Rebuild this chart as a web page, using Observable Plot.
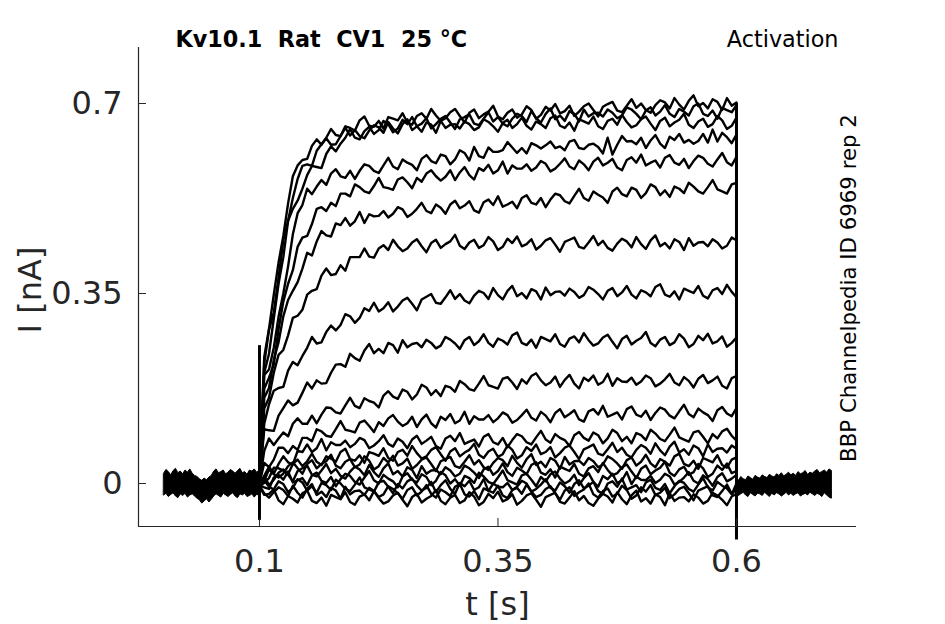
<!DOCTYPE html>
<html><head><meta charset="utf-8">
<script src="https://cdn.jsdelivr.net/npm/d3@7"></script>
<script src="https://cdn.jsdelivr.net/npm/@observablehq/plot@0.6"></script>
<style>body{margin:0;background:#fff} svg{display:block}</style>
</head><body><div id="chart"></div>
<script>
// Sampling of the voltage-step traces (s) and baseline envelopes (s)
const stepStart = 0.1, stepDt = 0.005;
const preStart = 0.0, postStart = 0.6, baseDt = 0.0025;

// Currents in pA, one array per voltage step (sampled every 5 ms from 0.1 s to 0.6 s)
const trace01 = [15, 233,285,348,407,456,516,566,586,596,598, 622,634,624,637,653,642,640,658,655,650, 669,676,659,657,668,654,675,672,669,682, 665,661,677,682,672,690,678,668,673,684, 690,677,665,683,689,673,680,685,696,676, 671,683,689,674,680,695,688,672,679,694, 687,699,682,686,696,677,685,695,700,688, 676,694,699,703,687,684,696,708,692,700, 688,683,697,706,702,691,710,698,689,705, 715,695,701,691,708,703,688,710,696,702];
const trace02 = [10, 204,239,304,368,417,484,506,521,543,568, 585,583,581,607,621,612,626,637,653,637, 634,649,657,644,651,668,662,647,654,670, 662,675,658,663,673,654,662,672,677,665, 653,671,675,680,663,660,672,684,667,675, 663,658,672,681,677,666,686,673,665,681, 691,671,678,668,686,681,667,689,676,682, 683,676,689,683,673,678,693,689,681,671, 687,693,678,685,697,681,675,690,685,678, 695,700,681,677,687,672,692,688,684,697];
const trace03 = [12, 221,283,315,379,448,484,526,561,585,588, 585,613,625,636,624,625,640,655,641,651, 640,636,650,660,656,646,666,654,645,662, 671,651,658,648,665,661,646,668,655,661, 662,654,667,662,651,656,671,666,658,648, 664,670,655,662,674,659,652,667,662,655, 673,678,659,655,665,650,671,667,663,676, 658,653,668,672,661,679,666,656,660,671, 676,663,651,668,674,658,665,670,681,661, 655,667,672,657,662,677,669,653,659,674];
const trace04 = [8, 200,210,250,307,350,400,459,498,513,543, 533,547,559,550,571,579,566,563,576,561, 576,588,585,576,572,586,600,584,579,597, 591,587,577,598,605,594,590,606,603,588, 597,614,609,595,620,603,600,619,611,611, 614,629,619,609,618,608,627,623,617,623, 630,618,621,614,630,633,618,616,624,626, 620,608,637,606,624,640,630,631,625,637, 618,632,642,626,618,639,633,644,628,633, 626,631,644,628,652,630,646,638,627,643];
const trace05 = [6, 175,195,219,284,335,368,393,436,453,456, 478,506,509,502,517,511,534,534,529,551, 546,538,535,548,563,546,544,541,560,564, 555,544,563,556,571,577,566,558,565,577, 559,573,583,568,560,581,576,587,571,577, 593,571,586,580,580,588,576,582,594,589, 575,580,589,599,584,579,595,588,577,593, 600,586,591,598,582,577,596,601,591,606, 586,591,595,582,600,605,591,587,598,581, 594,604,600,589,584,597,609,592,586,602];
const trace06 = [5, 158,176,228,260,308,338,355,371,396,425, 420,446,465,457,455,479,476,489,475,483, 500,480,496,492,493,502,490,497,509,505, 491,497,506,517,502,498,514,508,497,514, 521,507,512,520,503,499,518,523,513,529, 510,514,519,507,526,531,517,514,526,509, 523,534,531,520,516,530,543,526,521,538, 532,527,517,538,545,533,529,545,541,526, 535,551,546,531,540,528,547,543,535,554, 547,538,534,546,559,542,538,534,551,554];
const trace07 = [4, 138,158,204,237,246,273,305,309,320,348, 355,358,383,396,384,386,402,392,417,417, 417,433,418,416,433,439,430,449,437,428, 433,444,450,437,426,443,449,434,441,446, 458,438,432,444,449,434,439,454,446,430, 436,451,443,455,437,441,450,431,438,448, 452,440,427,445,449,453,436,433,444,456, 439,447,434,429,442,451,446,435,454,441, 432,448,457,437,443,433,450,445,430,452, 438,444,445,437,450,444,433,438,453,448];
const trace08 = [3, 110,146,171,176,178,208,224,218,235,250, 270,258,260,279,291,282,292,312,308,296, 305,323,318,333,317,323,334,317,326,337, 342,331,319,339,344,349,333,331,343,356, 340,349,337,332,346,355,351,340,360,347, 339,355,364,345,351,341,358,354,339,361, 347,353,354,346,359,353,342,347,362,357, 349,339,355,360,345,352,364,348,341,356, 352,345,362,367,348,344,354,339,359,355, 351,364,346,341,356,360,349,366,353,343];
const trace09 = [2, 100,98,97,125,139,153,144,149,167,186, 175,190,184,185,204,219,220,215,239,231, 226,245,257,240,248,240,259,255,241,264, 251,257,259,251,265,259,249,254,270,265, 258,248,264,270,255,262,275,259,252,267, 263,256,273,278,259,255,265,250,270,266, 262,275,257,252,267,271,260,277,264,254, 258,269,274,261,249,266,272,256,263,268, 279,259,253,265,270,255,260,275,267,251, 257,272,264,276,258,262,271,252,259,269];
const trace10 = [1, 60,83,71,83,94,87,110,120,110,110, 125,111,127,140,139,131,129,144,158,143, 139,157,152,149,140,162,170,160,156,173, 169,155,164,182,177,163,172,161,180,177, 169,189,183,174,171,184,198,181,178,175, 193,196,186,174,192,184,198,203,190,181, 186,197,178,191,200,184,175,195,189,199, 182,187,202,180,194,188,187,195,182,188, 199,194,179,184,192,202,186,181,196,189, 177,193,200,185,190,197,180,175,194,198];
const trace11 = [0, 38,30,44,66,66,56,69,62,84,84, 78,100,96,88,86,100,115,99,97,94, 112,116,106,95,113,106,120,126,114,106, 111,123,104,118,127,111,103,123,117,128, 111,116,132,110,124,118,118,126,113,120, 131,126,112,117,126,136,121,116,132,125, 113,130,137,122,128,135,118,114,133,137, 127,143,123,127,131,118,137,142,127,123, 134,117,130,140,136,125,120,133,145,128, 122,138,131,126,115,135,141,129,124,139];
const trace12 = [-2, 14,31,18,36,50,39,35,60,58,72, 58,65,82,61,76,71,71,79,67,73, 84,80,65,70,78,89,73,68,83,77, 65,81,88,73,79,86,69,64,83,88, 78,93,73,77,81,68,86,91,76,72, 84,67,80,91,87,76,72,85,97,81, 75,91,84,80,69,89,95,84,79,94, 89,74,83,99,93,78,86,74,93,89, 80,99,92,82,78,90,103,85,81,77, 94,97,86,74,91,83,96,101,88,79];
const trace13 = [-4, 1,10,29,28,24,17,36,44,32,41, 55,40,34,50,46,40,58,64,45,42, 52,38,58,55,51,65,47,42,58,62, 51,69,56,46,50,62,67,54,42,59, 65,50,57,62,73,53,47,59,64,49, 54,70,62,46,52,67,60,72,54,58, 67,48,56,66,70,58,45,63,67,72, 55,52,63,75,58,66,53,48,62,71, 66,55,74,61,52,68,77,57,63,53, 70,65,50,72,58,64,65,57,70,64];
const trace14 = [0, 5,26,17,11,18,32,39,28,18,36, 43,28,36,41,53,33,28,40,45,30, 35,50,42,26,32,47,39,51,33,37, 46,27,34,44,48,36,23,41,45,49, 32,29,40,52,35,43,30,25,38,47, 43,32,51,38,29,45,54,34,40,30, 47,42,27,49,35,41,42,34,47,41, 30,35,50,45,37,27,43,48,33,40, 53,37,30,45,40,33,50,55,36,32, 42,27,47,43,39,52,34,29,44,48];
const trace15 = [-1, 13,-3,7,20,26,16,4,23,28,33, 16,13,24,36,19,27,14,9,22,31, 26,15,34,21,12,28,37,17,23,13, 30,25,10,32,18,24,25,17,30,24, 13,18,33,28,20,10,26,31,16,23, 37,21,14,29,24,17,34,39,20,16, 26,11,31,27,23,36,18,13,28,32, 21,38,25,15,19,30,35,22,10,27, 33,17,24,29,40,20,14,26,31,16, 21,36,28,12,18,33,25,37,19,23];
const trace16 = [-3, -7,-10,11,16,7,22,2,6,10,-3, 15,20,5,1,12,-5,8,18,14,3, -2,11,23,6,0,16,9,4,-7,13, 19,7,2,17,12,-3,5,21,15,0, 8,-4,14,10,1,20,13,3,-1,11, 24,6,2,-2,15,18,7,-5,12,4, 17,22,9,0,5,16,-3,10,19,3, -6,14,8,18,1,6,21,-1,13,7, 6,14,1,7,18,13,-2,3,11,21, 5,0,15,8,-4,12,19,4,9,16];
const trace17 = [-2, 6,-6,-11,4,-1,-16,-8,8,2,-13, -5,-17,1,-3,-12,7,0,-10,-14,-2, 11,-7,-11,-15,2,5,-6,-18,-1,-9, 4,9,-4,-13,-8,3,-16,-3,6,-10, -19,1,-5,5,-12,-7,8,-14,0,-6, -7,1,-12,-6,5,0,-15,-10,-2,8, -8,-13,2,-5,-17,-1,6,-9,-4,3, -14,-19,0,4,-6,9,-11,-7,-3,-16, 2,7,-8,-12,-1,-18,-5,5,1,-10, -15,-2,10,-7,-13,3,-4,-9,-20,0];
const trace18 = [-4, -18,-26,-16,-7,-12,-23,-4,-17,-26,-10, -1,-21,-15,-25,-8,-13,-28,-6,-20,-14, -13,-21,-8,-14,-25,-20,-5,-10,-18,-28, -12,-7,-22,-15,-3,-19,-26,-11,-16,-23, -6,-1,-20,-24,-14,-29,-9,-13,-17,-4, -22,-27,-12,-8,-19,-2,-15,-25,-21,-10, -5,-18,-30,-13,-7,-23,-16,-11,0,-20, -26,-14,-9,-24,-19,-4,-12,-28,-22,-7, -15,-3,-21,-17,-8,-27,-20,-10,-6,-18, -31,-13,-9,-5,-22,-25,-14,-2,-19,-11];
const trace19 = [-6, -21,-19,-11,-31,-38,-23,-28,-35,-18,-13, -32,-36,-26,-41,-21,-25,-29,-16,-34,-39, -24,-20,-31,-14,-27,-37,-33,-22,-17,-30, -42,-25,-19,-35,-28,-23,-12,-32,-38,-26, -21,-36,-31,-16,-24,-40,-34,-19,-27,-15, -33,-29,-20,-39,-32,-22,-18,-30,-43,-25, -21,-17,-34,-37,-26,-14,-31,-23,-36,-41, -28,-19,-24,-35,-16,-29,-38,-22,-13,-33, -27,-37,-20,-25,-40,-18,-32,-26,-25,-33, -20,-26,-37,-32,-17,-22,-30,-40,-24,-19];
const traces = [trace01,trace02,trace03,trace04,trace05,trace06,trace07,trace08,trace09,trace10,
                trace11,trace12,trace13,trace14,trace15,trace16,trace17,trace18,trace19];

// Holding-potential baseline (all sweeps overlaid): upper/lower envelope in pA, every 2.5 ms
const preUpper  = [18,25,21,15,23,27,19,22,17,24,20,26,18,14,12,8,5,9,6,11,14,22,26,19,21,24,17,20,25,22,18,23,27,19,21,16,24,22,26,20,23];
const preLower  = [-22,-19,-25,-21,-18,-24,-27,-20,-23,-19,-26,-22,-20,-24,-28,-31,-37,-33,-29,-35,-30,-24,-20,-23,-26,-19,-22,-25,-21,-18,-24,-27,-20,-22,-19,-25,-23,-20,-26,-21,-22];
const postUpper = [9,5,12,8,6,13,10,7,14,11,9,15,12,10,16,13,11,17,14,19,13,16,20,15,18,14,21,17,19,23,16,20,18,22,25,19,21,24,20,26,23];
const postLower = [-19,-23,-20,-17,-22,-25,-18,-21,-24,-19,-20,-23,-17,-21,-25,-19,-22,-18,-20,-24,-21,-17,-22,-19,-23,-20,-18,-24,-21,-19,-22,-17,-20,-23,-19,-21,-25,-18,-22,-26,-28];

// Capacitive transients at step on/off (pA)
const transients = [{t: 0.1, lo: -68, hi: 254}, {t: 0.6, lo: -104, hi: 700}];

const xTicks = [0.1, 0.35, 0.6];
const yTicks = [0, 0.35, 0.7];
const xDomain = [-0.0268, 0.7258];
const yDomain = [-0.0792, 0.8032];

const title = "Kv10.1\u00a0 Rat\u00a0 CV1\u00a0 25 °C";
const protocol = "Activation";
const source = "BBP Channelpedia ID 6969 rep 2";

// Build tables
const rows = traces.flatMap((vals, s) => vals.map((v, k) => ({sweep: s, t: +(stepStart + k * stepDt).toFixed(4), i: v / 1000})));
const band = [
  ...preUpper.map((hi, j) => ({seg: "pre", t: +(preStart + j * baseDt).toFixed(4), hi: hi / 1000, lo: preLower[j] / 1000})),
  ...postUpper.map((hi, j) => ({seg: "post", t: +(postStart + j * baseDt).toFixed(4), hi: hi / 1000, lo: postLower[j] / 1000}))
];
const spikes = transients.map(d => ({t: d.t, lo: d.lo / 1000, hi: d.hi / 1000}));

const axisColor = "#262626";
const chart = Plot.plot({
  width: 945, height: 624,
  marginLeft: 138, marginRight: 89, marginTop: 47, marginBottom: 98,
  style: {fontFamily: "DejaVu Sans", background: "#fff"},
  x: {domain: xDomain},
  y: {domain: yDomain},
  marks: [
    Plot.areaY(band, {x: "t", y1: "lo", y2: "hi", z: "seg", fill: "black", stroke: "black", strokeWidth: 1}),
    Plot.line(rows, {x: "t", y: "i", z: "sweep", stroke: "black", strokeWidth: 2.4, strokeLinejoin: "round"}),
    Plot.ruleX(spikes, {x: "t", y1: "lo", y2: "hi", stroke: "black", strokeWidth: 3}),
    Plot.ruleX([xDomain[0]], {stroke: axisColor, strokeWidth: 1.2}),
    Plot.ruleY([yDomain[0]], {stroke: axisColor, strokeWidth: 1.2}),
    Plot.axisY({ticks: yTicks, tickSize: 8, dx: 8, tickFormat: () => "", label: null, stroke: axisColor}),
    Plot.axisY({ticks: yTicks, tickSize: 0, tickPadding: 16, tickFormat: d => String(d), label: null, fontSize: 32, fill: axisColor}),
    Plot.axisX({ticks: xTicks, tickSize: 8, dy: -8, tickFormat: () => "", label: null, stroke: axisColor}),
    Plot.axisX({ticks: xTicks, tickSize: 0, tickPadding: 23, tickFormat: d => String(d), label: null, fontSize: 32, fill: axisColor}),
    Plot.text(["t [s]"], {frameAnchor: "bottom", dy: 78, textAnchor: "middle", lineAnchor: "middle", fontSize: 32, fill: axisColor}),
    Plot.text(["I [nA]"], {frameAnchor: "left", dx: -108, dy: 3, rotate: -90, textAnchor: "middle", lineAnchor: "middle", fontSize: 32, fill: axisColor}),
    Plot.text([title], {frameAnchor: "top-left", dx: 37, dy: -8, textAnchor: "start", lineAnchor: "middle", fontWeight: "bold", fontSize: 22.3, fill: "black"}),
    Plot.text([protocol], {frameAnchor: "top-right", dx: -18, dy: -8, textAnchor: "end", lineAnchor: "middle", fontSize: 22.3, fill: "black"}),
    Plot.text([source], {frameAnchor: "right", dx: -7, dy: 1, rotate: -90, textAnchor: "middle", lineAnchor: "middle", fontSize: 21.3, fill: "black"})
  ]
});
document.getElementById("chart").appendChild(chart);
</script>
</body></html>
